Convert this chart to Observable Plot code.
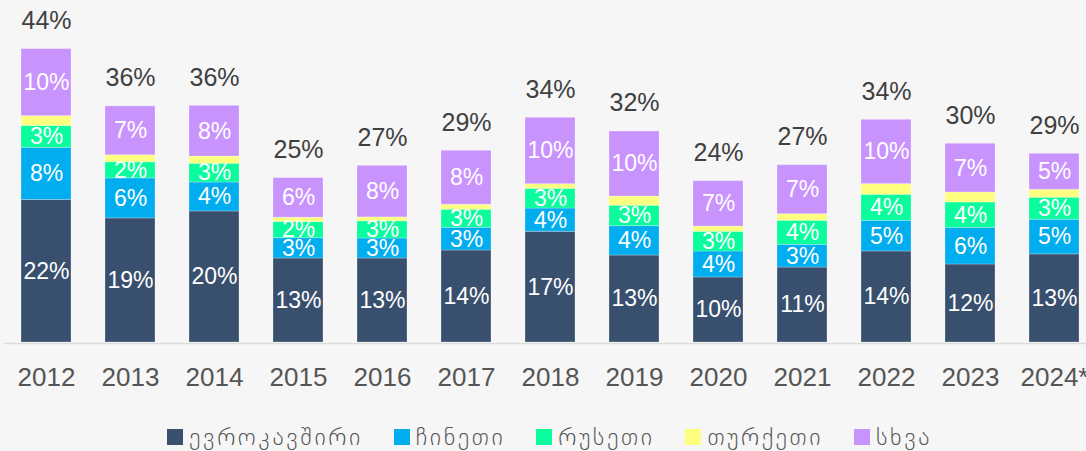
<!DOCTYPE html>
<html>
<head>
<meta charset="utf-8">
<script src="https://cdn.jsdelivr.net/npm/d3@7"></script>
<script src="https://cdn.jsdelivr.net/npm/@observablehq/plot@0.6"></script>
<style>
  html, body { margin: 0; padding: 0; background: #f6f6f6; }
  #wrap { position: relative; width: 1086px; height: 451px; overflow: hidden; }
  #legend { position: absolute; left: 167px; top: 423px; display: flex; align-items: center;
    font-family: "DejaVu Sans", sans-serif; font-size: 24px; letter-spacing: 2.6px; font-weight: 300; color: #555; white-space: nowrap; }
  #legend .item { display: flex; align-items: center; margin-right: 31px; }
  #legend .sw { width: 16px; height: 16px; margin-right: 6px; }
</style>
</head>
<body>
<div id="wrap">
  <div id="chart"></div>
  <div id="legend"></div>
</div>
<script>
const years = ["2012","2013","2014","2015","2016","2017","2018","2019","2020","2021","2022","2023","2024*"];
const seriesNames = ["ევროკავშირი","ჩინეთი","რუსეთი","თურქეთი","სხვა"];
const seriesColors = ["#38506e","#00adee","#0afc9c","#fefe7f","#c993fe"];
const eu     = [21.6, 18.8, 19.85, 12.73, 12.73, 13.94, 16.77, 13.18, 9.85, 11.36, 13.79, 11.82, 13.35];
const china  = [7.9, 6.06, 4.4, 3.08, 3.03, 3.44, 3.53, 4.45, 3.94, 3.44, 4.65, 5.56, 5.25];
const russia = [3.3, 2.45, 2.83, 2.45, 2.6, 2.73, 2.98, 3.08, 2.98, 3.64, 3.94, 3.83, 3.33];
const turkey = [1.5, 1.06, 1.1, 0.65, 0.6, 0.76, 0.71, 1.41, 0.8, 1.0, 1.62, 1.52, 1.21];
const other  = [10.15, 7.4, 7.68, 6.0, 7.8, 8.18, 10.05, 9.85, 6.88, 7.42, 9.74, 7.38, 5.45];
const labeled = [true, true, true, false, true];

const seriesValues = [eu, china, russia, turkey, other];
const rows = [];
seriesNames.forEach((s, i) => {
  years.forEach((y, j) => rows.push({year: y, series: s, value: seriesValues[i][j], showLabel: labeled[i]}));
});
const totals = years.map((y, j) => ({year: y, total: d3.sum(seriesValues, v => v[j])}));

const numFont = "'Liberation Sans Narrow', 'Arial Narrow', sans-serif";

const chart = Plot.plot({
  width: 1086,
  height: 400,
  marginTop: 12,
  marginBottom: 58,
  marginLeft: 21,
  marginRight: 7,
  style: {background: "transparent", color: "#555", fontFamily: numFont},
  x: {domain: years, paddingInner: 0.405, paddingOuter: 0, label: null},
  y: {domain: [0, 50], axis: null},
  color: {domain: seriesNames, range: seriesColors},
  marks: [
    Plot.ruleY([0], {stroke: "#dcdcdc", strokeWidth: 1.5, dy: 1, insetLeft: -17, insetRight: -7}),
    Plot.barY(rows, Plot.stackY({x: "year", y: "value", z: "series", fill: "series",
      stroke: "#ffffff", strokeOpacity: 0.25, strokeWidth: 1})),
    Plot.text(rows, Plot.stackY({x: "year", y: "value", z: "series",
      text: d => d.showLabel ? Math.round(d.value) + "%" : "",
      fill: "white", fontSize: 23, fontFamily: numFont})),
    Plot.text(totals, {x: "year", y: "total", text: d => Math.round(d.total) + "%",
      lineAnchor: "bottom", dy: -20, fill: "#404040", fontSize: 25, fontFamily: numFont}),
    Plot.axisX({tickSize: 0, tickPadding: 25, fontSize: 26, fontFamily: numFont, fill: "#555", label: null})
  ]
});
document.getElementById("chart").appendChild(chart);

const legend = document.getElementById("legend");
seriesNames.forEach((s, i) => {
  const item = document.createElement("div");
  item.className = "item";
  const sw = document.createElement("div");
  sw.className = "sw";
  sw.style.background = seriesColors[i];
  const t = document.createElement("span");
  t.textContent = s;
  item.appendChild(sw);
  item.appendChild(t);
  legend.appendChild(item);
});
</script>
</body>
</html>
